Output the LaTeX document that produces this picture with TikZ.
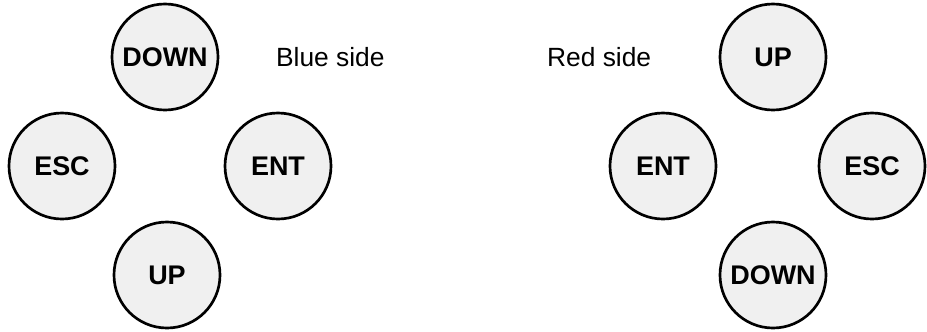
\documentclass[tikz,border=0pt]{standalone}
\usepackage{fontspec}
\setmainfont{Liberation Sans}
\definecolor{keyfill}{HTML}{F0F0F0}
\definecolor{keyedge}{HTML}{000000}

\begin{document}
\begin{tikzpicture}[
  x=0.03cm, y=-0.03cm,
  key/.style={circle, draw=keyedge, fill=keyfill, line width=0.08cm,
              minimum size=3.18cm, inner sep=0pt, font=\fontsize{23}{26}\selectfont\bfseries},
  side/.style={anchor=west, font=\fontsize{22.5}{26}\selectfont},
]
\useasboundingbox (0,0) rectangle (927,331);
% blue side keypad
\node[key] (blue_down) at (165, 57)  {DOWN};
\node[key] (blue_esc)  at (62, 166)  {ESC};
\node[key] (blue_ent)  at (278, 166) {ENT};
\node[key] (blue_up)   at (167, 275) {UP};
\node[side] (blue_lab) at (272, 57) {Blue side};
% red side keypad (mirrored)
\node[key] (red_up)   at (773, 57)  {UP};
\node[key] (red_ent)  at (663, 166) {ENT};
\node[key] (red_esc)  at (872, 166) {ESC};
\node[key] (red_down) at (773, 275) {DOWN};
\node[side] (red_lab) at (543, 57) {Red side};
\end{tikzpicture}
\end{document}
